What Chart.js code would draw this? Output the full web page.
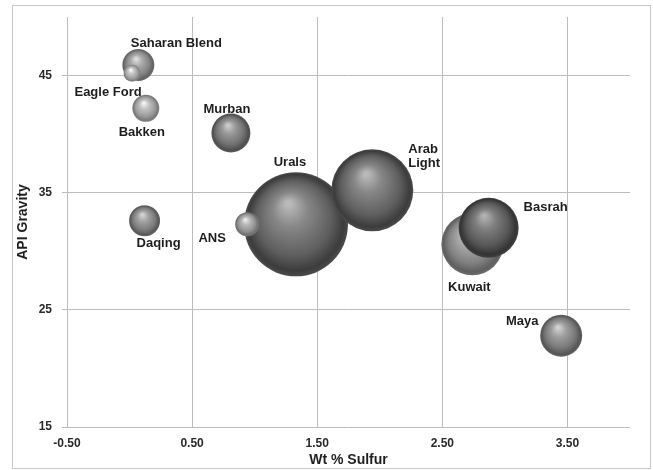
<!DOCTYPE html>
<html>
<head>
<meta charset="utf-8">
<script src="https://cdn.jsdelivr.net/npm/chart.js@4"></script>
<style>
    body { margin: 0; background: #fff; }
    #frame {
        position: absolute;
        left: 12px;
        top: 5px;
        width: 637px;
        height: 462px;
        border: 1px solid #c8c8c8;
    }
</style>
</head>
<body>
<div id="frame"><canvas id="bubbleChart"></canvas></div>
<script>
// Data
const crudeNames = [
    "Saharan Blend",
    "Eagle Ford",
    "Bakken",
    "Murban",
    "Urals",
    "ANS",
    "Daqing",
    "Arab\nLight",
    "Kuwait",
    "Basrah",
    "Maya",
];
const sulfurWt = [0.07, 0.02, 0.13, 0.81, 1.33, 0.94, 0.12, 1.94, 2.74, 2.87, 3.45];
const apiGravity = [45.9, 45.2, 42.2, 40.1, 32.3, 32.3, 32.6, 35.2, 30.6, 32.0, 22.8];
const bubbleSize = [16, 8.5, 13.5, 19.5, 52, 12, 15.5, 41, 31, 30, 21];

const xTicks = [-0.5, 0.5, 1.5, 2.5, 3.5];
const yTicks = [15, 25, 35, 45];

// Styles
const bubbleTone = [138, 165, 160, 118, 100, 150, 128, 100, 135, 92, 125];
const labelOffset = [
    [38, -22, "center"],
    [-24, 19, "center"],
    [-4, 24, "center"],
    [-4, -24, "center"],
    [-6, -62, "center"],
    [-35, 14, "center"],
    [14, 23, "center"],
    [36, -41, "left"],
    [-3, 43, "center"],
    [35, -20, "left"],
    [-39, -14, "center"],
];

function gray(v) {
    v = Math.max(0, Math.min(255, Math.round(v)));
    return "rgb(" + v + "," + v + "," + v + ")";
}

function sphereFill(context) {
    const chart = context.chart;
    const raw = context.raw;
    if (!raw || !chart.scales.x || !chart.chartArea) return "#888";
    const cx = chart.scales.x.getPixelForValue(raw.x);
    const cy = chart.scales.y.getPixelForValue(raw.y);
    const r = raw.r;
    const base = bubbleTone[context.dataIndex];
    const g = chart.ctx.createRadialGradient(cx - r * 0.15, cy - r * 0.4, r * 0.05, cx, cy, r);
    g.addColorStop(0, gray(base + 85));
    g.addColorStop(0.3, gray(base + 35));
    g.addColorStop(0.7, gray(base - 5));
    g.addColorStop(0.92, gray(base - 40));
    g.addColorStop(1, gray(base - 25));
    return g;
}

const bubbleLabels = {
    id: "bubbleLabels",
    afterDatasetsDraw(chart) {
        const c = chart.ctx;
        const meta = chart.getDatasetMeta(0);
        c.save();
        c.font = 'bold 13px "Liberation Sans", Arial, sans-serif';
        c.fillStyle = "#1e1e1e";
        c.textBaseline = "middle";
        meta.data.forEach((el, i) => {
            const [dx, dy, align] = labelOffset[i];
            c.textAlign = align;
            crudeNames[i].split("\n").forEach((line, k) => {
                c.fillText(line, el.x + dx, el.y + dy + k * 14);
            });
        });
        c.restore();
    },
};

const points = crudeNames.map((name, i) => ({
    x: sulfurWt[i],
    y: apiGravity[i],
    r: bubbleSize[i],
}));

const tickFont = { family: '"Liberation Sans", Arial, sans-serif', size: 12, weight: "bold" };
const titleFont = { family: '"Liberation Sans", Arial, sans-serif', size: 14, weight: "bold", lineHeight: 1 };

new Chart(document.getElementById("bubbleChart"), {
    type: "bubble",
    data: {
        datasets: [
            {
                label: "Crudes",
                data: points,
                backgroundColor: sphereFill,
                borderWidth: 0,
                clip: false,
            },
        ],
    },
    options: {
        responsive: true,
        maintainAspectRatio: false,
        animation: false,
        events: [],
        layout: {
            autoPadding: false,
            padding: { left: 3, right: 20, top: 11, bottom: 0 },
        },
        plugins: {
            legend: { display: false },
            tooltip: { enabled: false },
        },
        scales: {
            x: {
                type: "linear",
                min: -0.5,
                max: 4.0,
                afterBuildTicks: (scale) => {
                    scale.ticks = xTicks.map((v) => ({ value: v }));
                },
                afterFit: (scale) => {
                    scale.height = 41;
                },
                grid: { color: "#bdbdbd", drawTicks: false },
                border: { display: false },
                ticks: {
                    font: tickFont,
                    color: "#2a2a2a",
                    padding: 9,
                    maxRotation: 0,
                    callback: (v) => Number(v).toFixed(2),
                },
                title: {
                    display: true,
                    text: "Wt % Sulfur",
                    font: titleFont,
                    color: "#1e1e1e",
                    padding: { top: 3, bottom: 1 },
                },
            },
            y: {
                type: "linear",
                min: 15,
                max: 50,
                afterBuildTicks: (scale) => {
                    scale.ticks = yTicks.map((v) => ({ value: v }));
                },
                afterFit: (scale) => {
                    scale.width = 51;
                    scale.paddingTop = 0;
                    scale.paddingBottom = 0;
                },
                grid: { color: "#bdbdbd", tickLength: 5 },
                border: { display: false },
                ticks: {
                    font: tickFont,
                    color: "#2a2a2a",
                    padding: 10,
                },
                title: {
                    display: true,
                    text: "API Gravity",
                    font: titleFont,
                    color: "#1e1e1e",
                    padding: { top: 0, bottom: 6 },
                },
            },
        },
    },
    plugins: [bubbleLabels],
});
</script>
</body>
</html>
